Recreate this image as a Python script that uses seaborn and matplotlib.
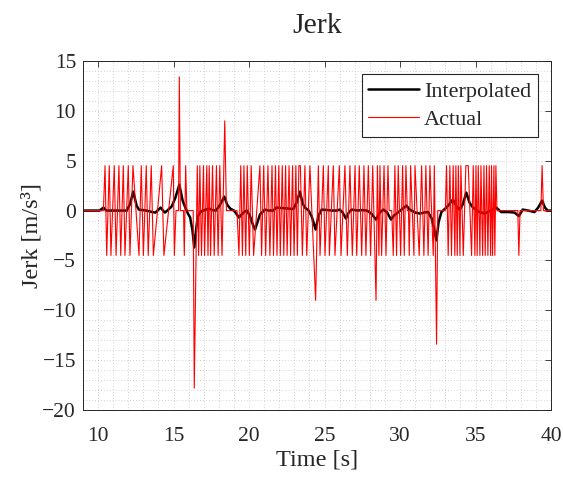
import matplotlib
matplotlib.use("Agg")
import matplotlib.pyplot as plt
from matplotlib.ticker import MultipleLocator
import numpy as np
import pandas as pd
import seaborn as sns

# measured jerk (raw samples)
t_actual = [
    9.0, 10.35, 10.46, 10.57, 10.74, 10.85, 11.07, 11.19, 11.38, 11.50, 11.67, 11.78,
    12.00, 12.11, 12.31, 12.71, 12.86, 13.00, 13.19, 13.32, 13.52, 13.66, 14.21, 14.36,
    14.98, 15.05, 15.16, 15.33, 15.38, 15.45, 15.66, 15.71, 15.80, 15.88, 16.30, 16.37,
    16.57, 16.66, 16.74, 16.85, 16.98, 17.05, 17.20, 17.28, 17.36, 17.45, 17.58, 17.69,
    17.84, 17.95, 18.06, 18.21, 18.39, 18.50, 19.20,
    19.33, 19.45, 19.56, 19.66, 19.78, 19.88, 20.02, 20.14, 20.30, 20.72, 20.83, 20.97,
    21.10, 21.25, 21.38, 21.52, 21.62, 21.75, 21.85, 21.97, 22.07, 22.20, 22.30, 22.42,
    22.52, 22.65, 22.75, 22.88, 22.98, 23.10, 23.20, 23.30, 23.40, 23.53, 23.70, 23.82,
    24.03, 24.41,
    24.59, 24.70, 24.92, 25.03, 25.25, 25.32, 25.58, 25.69, 25.98, 26.09, 26.35, 26.51,
    26.68, 26.84, 27.02, 27.13, 27.30, 27.46, 27.61, 27.74, 27.90, 28.05, 28.19, 28.41,
    28.50, 28.60, 28.67, 28.78, 28.94, 29.07, 29.20, 29.28, 29.45,
    29.55, 29.66, 29.77, 29.88, 30.04, 30.17, 30.28, 30.39, 30.48, 30.56, 30.61, 30.70,
    30.92, 30.99, 31.27, 31.43, 31.58, 31.71, 31.86, 31.98, 32.20, 32.27, 32.42, 32.50,
    33.00,
    33.08, 33.19, 33.30, 33.41, 33.52, 33.63, 33.70, 33.79, 33.86, 33.97, 34.03, 34.19,
    34.36, 34.52, 34.74, 34.85, 34.96, 35.03, 35.11, 35.18, 35.29, 35.36, 35.47, 35.56,
    35.64, 35.73, 35.82, 35.91, 36.00, 36.06, 36.13, 36.22, 36.28, 36.35, 36.42,
    37.80, 37.87, 37.95, 39.33, 39.41, 39.50, 40.0,
]
jerk_actual = [
    0, 0, 4.5, -4.5, 4.5, -4.5, 4.5, -4.5, 4.5, -4.5, 4.5, -4.5,
    4.5, -4.5, 4.5, -4.5, 4.5, -4.5, 4.5, -4.5, 4.5, -4.5, 4.5, -4.5,
    4.5, -4.5, 0, 0, 13.4, 0, 0, -4.5, 4.5, 0, 0, -17.8,
    4.5, -4.5, 4.5, -4.5, 4.5, -4.5, 4.5, -4.5, 4.5, -4.5, 4.5, -4.5,
    4.5, -4.5, 4.5, -4.5, 9.0, 0, 0,
    -4.5, 4.5, -4.5, 4.5, -4.5, 4.5, -4.5, 4.5, -4.5, 4.5, -4.5, 4.5,
    -4.5, 4.5, -4.5, 4.5, -4.5, 4.5, -4.5, 4.5, -4.5, 4.5, -4.5, 4.5,
    -4.5, 4.5, -4.5, 4.5, -4.5, 4.5, -4.5, 4.5, 4.5, -4.5, 4.5, -4.5,
    4.5, -9.0,
    4.5, -4.5, 4.5, -4.5, 4.5, -4.5, 4.5, -4.5, 4.5, -4.5, 4.5, -4.5,
    4.5, -4.5, 4.5, -4.5, 4.5, -4.5, 4.5, -4.5, 4.5, -4.5, 4.5, -9.0,
    4.5, -4.5, 4.5, -4.5, 4.5, -4.5, 4.5, 0, 0,
    -4.5, 4.5, -4.5, 4.5, -4.5, 4.5, -4.5, 4.5, 0, 0, -4.5, 4.5,
    -4.5, 4.5, -4.5, 4.5, -4.5, 4.5, -4.5, 4.5, -4.5, 4.5, -13.4, 0,
    0,
    4.5, -4.5, 4.5, -4.5, 4.5, -4.5, 4.5, -4.5, 4.5, -4.5, 4.5, -4.5,
    4.5, 4.5, -4.5, 4.5, -4.5, 4.5, -4.5, 4.5, -4.5, 4.5, -4.5, 4.5,
    -4.5, 4.5, -4.5, 4.5, -4.5, 4.5, -4.5, 4.5, -4.5, 4.5, 0,
    0, -4.5, 0, 0, 4.5, 0, 0,
]

# interpolated (smoothed) jerk
t_interp = [
    9.0, 10.1, 10.35, 10.55, 11.9, 12.1, 12.33, 12.55, 12.7, 13.2, 13.6, 13.8,
    14.14, 14.3, 14.43, 14.65, 14.87, 15.1, 15.38, 15.6, 15.75, 15.95, 16.1, 16.25,
    16.37, 16.5, 16.6, 16.8, 16.95, 17.15, 17.37, 17.55, 17.8, 18.05, 18.36, 18.55,
    18.75, 19.0, 19.15, 19.33, 19.5, 19.7, 19.85, 20.05, 20.25, 20.4, 20.55, 20.72,
    21.05, 21.3, 21.6, 21.82, 22.2, 22.6, 22.93, 23.15, 23.37, 23.55, 23.7, 23.95,
    24.15, 24.41, 24.6, 24.81, 25.2, 25.5, 25.8, 26.0, 26.2, 26.42, 26.6, 26.8,
    27.2, 27.5, 27.8, 28.1, 28.41, 28.65, 28.9, 29.15, 29.4, 29.6, 29.77, 30.1,
    30.43, 30.6, 30.76, 31.0, 31.3, 31.6, 31.86, 32.1, 32.25, 32.41, 32.55, 32.74,
    33.07, 33.3, 33.5, 33.75, 33.95, 34.15, 34.39, 34.6, 34.83, 35.2, 35.6, 36.0,
    36.37, 36.7, 37.2, 37.58, 37.87, 38.13, 38.5, 38.9, 39.15, 39.41, 39.6, 39.78,
    40.0,
]
jerk_interp = [
    0.0, 0.0, 0.3, 0.0, 0.0, 0.6, 1.9, 0.5, 0.1, 0.0, -0.15, -0.2,
    0.3, 0.0, -0.2, 0.1, 0.4, 1.2, 2.6, 1.0, 0.4, -0.3, -0.7, -2.0,
    -3.7, -1.8, -0.6, -0.1, 0.0, 0.1, 0.2, 0.05, 0.0, 0.5, 1.4, 0.6,
    0.2, 0.0, -0.3, -0.7, -0.4, -0.1, 0.0, -0.5, -1.4, -1.9, -1.2, -0.4,
    0.1, 0.0, 0.0, 0.3, 0.25, 0.2, 0.15, 0.8, 1.9, 0.7, 0.3, 0.0,
    -0.6, -1.9, -0.5, 0.1, 0.05, 0.0, 0.0, 0.1, -0.2, -0.8, -0.2, 0.1,
    0.0, 0.05, 0.0, -0.3, -0.9, -0.2, 0.1, -0.2, -0.9, -0.5, -0.3, 0.1,
    0.5, 0.15, 0.0, -0.2, -0.3, -0.2, -0.15, -0.8, -1.8, -3.0, -1.2, -0.15,
    0.3, 0.7, 1.1, 0.4, 0.1, 0.6, 1.8, 0.8, 0.3, -0.1, -0.3, 0.0,
    0.3, -0.15, -0.15, -0.2, -0.55, 0.1, 0.0, -0.15, 0.3, 1.0, 0.3, 0.0,
    0.0,
]

df_act = pd.DataFrame({'t': t_actual, 'jerk': jerk_actual})
df_int = pd.DataFrame({'t': t_interp, 'jerk': jerk_interp})

sns.set_style('white')
plt.rcParams['font.family'] = ['Liberation Serif', 'DejaVu Serif']

fig = plt.figure(figsize=(5.63, 4.78), dpi=100)
ax = fig.add_axes([83 / 563, 1 - 410 / 478, 468 / 563, 349 / 478])

sns.lineplot(data=df_int, x='t', y='jerk', color='black', linewidth=1.8,
             label='Interpolated', estimator=None, sort=False, ax=ax)
sns.lineplot(data=df_act, x='t', y='jerk', color='#ff0000', linewidth=0.8,
             label='Actual', estimator=None, sort=False, ax=ax)

ax.set_xlim(9, 40)
ax.set_ylim(-20, 15)
ax.set_xticks(np.arange(10, 41, 5))
ax.set_yticks(np.arange(-20, 16, 5))
ax.xaxis.set_minor_locator(MultipleLocator(1))
ax.yaxis.set_minor_locator(MultipleLocator(1))
ax.grid(which='both', linestyle=(0, (1, 2.5)), color='#c4c4c4', linewidth=0.6)
ax.tick_params(which='major', direction='in', top=True, right=True, length=4,
               width=0.6, color='#262626', labelsize=15.5)
ax.tick_params(axis='x', which='major', pad=12)
ax.tick_params(axis='y', which='major', pad=5)
ax.tick_params(which='minor', length=0)
for s in ax.spines.values():
    s.set_color('#262626')
    s.set_linewidth(0.7)

ax.set_xlabel('Time [s]', fontsize=17.5, labelpad=3)
ax.set_ylabel('Jerk [m/s³]', fontsize=17.5, labelpad=0)
ax.set_title('Jerk', fontsize=21.5, pad=20)

leg = ax.legend(loc='upper right', fontsize=16, frameon=True, fancybox=False,
                edgecolor='#262626', framealpha=1, borderaxespad=0.6,
                handlelength=2.3, handletextpad=0.2, borderpad=0.3,
                labelspacing=0.35)
leg.get_frame().set_linewidth(0.8)

fig.savefig('out.png', dpi=100)
